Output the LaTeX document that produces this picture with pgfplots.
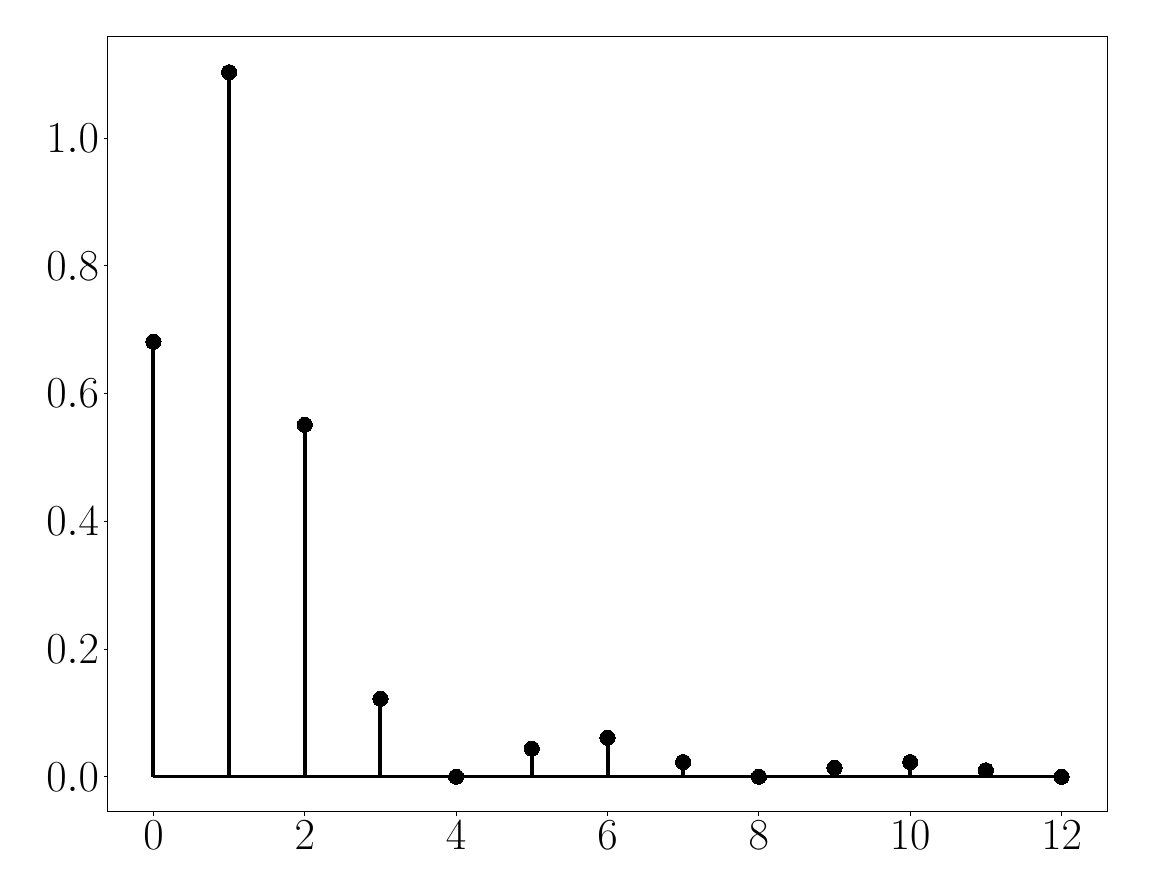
\documentclass[border=0pt]{standalone}
\usepackage{fix-cm}
\usepackage{pgfplots}
\pgfplotsset{compat=1.18}
\begin{document}
\begin{tikzpicture}
\begin{axis}[
	name=main,
	scale only axis,
	width=249.75mm,
	height=193.75mm,
	xmin=-0.6, xmax=12.6,
	ymin=-0.0552, ymax=1.1582,
	xtick={0,2,4,6,8,10,12},
	ytick={0,0.2,0.4,0.6,0.8,1.0},
	yticklabel style={/pgf/number format/fixed,/pgf/number format/fixed zerofill,/pgf/number format/precision=1},
	tick label style={font=\fontsize{31.5}{34}\selectfont},
	tick align=outside,
	tick pos=left,
	major tick length=1mm,
	every tick/.style={black, line width=0.25mm},
	axis line style={line width=0.25mm},
	clip=false,
]
% baseline
\addplot[black, line width=0.75mm, mark=none] coordinates {(0,0) (12,0)};
% stems
\addplot[ycomb, black, line width=1mm, mark=*, mark size=1.9mm, mark options={solid, fill=black, line width=0pt}] coordinates {
	(0,0.681) (1,1.103) (2,0.551) (3,0.122) (4,0.0) (5,0.044) (6,0.061)
	(7,0.023) (8,0.0) (9,0.014) (10,0.023) (11,0.010) (12,0.0)
};
\end{axis}
\path (main.south west) ++(-27mm,-21mm) (main.north east) ++(14.75mm,9.25mm);
\end{tikzpicture}
\end{document}
